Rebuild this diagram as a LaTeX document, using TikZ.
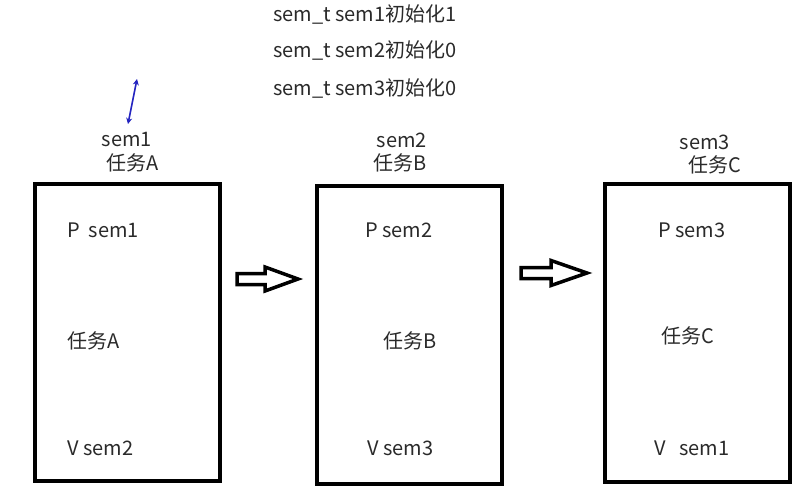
\documentclass[tikz,border=0pt]{standalone}
\usepackage{fontspec}
\setmainfont{Noto Sans CJK SC}
\usetikzlibrary{arrows.meta}
\definecolor{textgray}{HTML}{2A2A2A}
\definecolor{penblue}{HTML}{2424C0}
\begin{document}
\begin{tikzpicture}
        [
        x = 1pt, y = -1pt,
        every node/.style = {text = textgray, font = \fontsize{20}{22}\selectfont, inner sep = 0pt},
        task box/.style = {rectangle, draw = black, line width = 4pt, minimum width = 185pt, minimum height = 297pt},
        flow arrow/.style = {draw = black, line width = 3.5pt, line join = miter, fill = white},
        ]
        \tikzstyle{init line}=[anchor=west]
        \tikzstyle{box line}=[anchor=west]
        \useasboundingbox (0,0) rectangle (809,492);

        % initial values
        \node[init line] (init1) at (273,14) {sem\_t sem1初始化1};
        \node[init line] (init2) at (273,50) {sem\_t sem2初始化0};
        \node[init line] (init3) at (273,88) {sem\_t sem3初始化0};

        % pen stroke
        \coordinate (penlow) at (128,124);
        \coordinate (penhigh) at (137,79);
        \draw[penblue, line width = 1.6pt, {Stealth[length=6pt,width=6pt]}-{Stealth[length=6pt,width=6pt]}] (penlow) -- (penhigh);

        % task A
        \node (semA) at (127,140) {sem1};
        \node (titleA) at (133,163) {任务A};
        \node[task box] (boxA) at (127.5,332.5) {};
        \node[box line] (pA) at (67,230) {P\ \ sem1};
        \node[box line] (taskA) at (67,341) {任务A};
        \node[box line] (vA) at (67,448) {V sem2};

        % task B
        \node (semB) at (402,140) {sem2};
        \node (titleB) at (400,163) {任务B};
        \node[task box] (boxB) at (409.5,335) {};
        \node[box line] (pB) at (365,230) {P sem2};
        \node[box line] (taskB) at (383,341) {任务B};
        \node[box line] (vB) at (367,448) {V sem3};

        % task C
        \node (semC) at (705,142) {sem3};
        \node (titleC) at (715,165) {任务C};
        \node[task box] (boxC) at (697.5,333) {};
        \node[box line] (pC) at (658,230) {P sem3};
        \node[box line] (taskC) at (661,336) {任务C};
        \node[box line] (vC) at (654,448) {V\ \ \ sem1};

        % order
        \coordinate (stepAB) at (237,279);
        \coordinate (stepBC) at (521,273);
        \draw[flow arrow] (stepAB) ++(0,-5.5) -- ++(28,0) -- ++(0,-6.5) -- ++(33,12) -- ++(-33,12)
            -- ++(0,-6.5) -- ++(-28,0) -- cycle;
        \draw[flow arrow] (stepBC) ++(0,-5.5) -- ++(30,0) -- ++(0,-7) -- ++(36,12.5) -- ++(-36,12.5)
            -- ++(0,-7) -- ++(-30,0) -- cycle;
    \end{tikzpicture}
\end{document}
